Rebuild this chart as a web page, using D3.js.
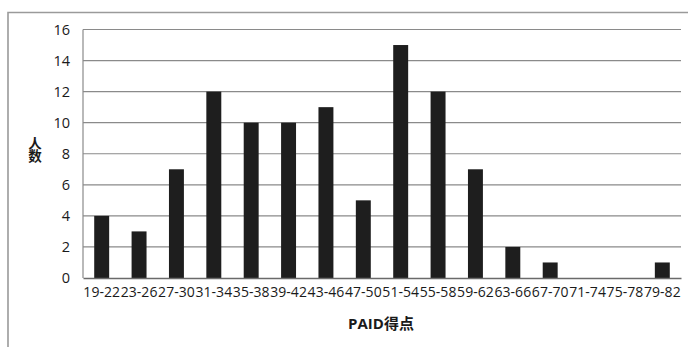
<!DOCTYPE html>
<html><head><meta charset="utf-8">
<script src="https://cdn.jsdelivr.net/npm/d3@7"></script>
<style>
html,body{margin:0;padding:0;background:#fff;}
svg{display:block;font-family:"Open Sans","Noto Sans CJK SC",sans-serif;}
</style></head>
<body>
<svg id="c" width="688" height="347"></svg>
<script>
const categories = ["19-22","23-26","27-30","31-34","35-38","39-42","43-46","47-50","51-54","55-58","59-62","63-66","67-70","71-74","75-78","79-82"];
const counts = [4,3,7,12,10,10,11,5,15,12,7,2,1,0,0,1];
const yTicks = [0,2,4,6,8,10,12,14,16];
const xTitle = "PAID得点";
const yTitle = "人数";

const FONT = "'Open Sans','Noto Sans CJK SC',sans-serif";
const svg = d3.select("#c");
const m = {left:83, right:681, top:29.5, bottom:278};

// outer frame
svg.append("path").attr("d","M8,347 V12.5 H688").attr("fill","none").attr("stroke","#9a9a9a").attr("stroke-width",1.6);

const x = d3.scaleBand().domain(categories).range([m.left,m.right]).paddingInner(0.6).paddingOuter(0.3);
const y = d3.scaleLinear().domain([0,16]).range([m.bottom,m.top]);

// gridlines
svg.append("g").selectAll("line").data(yTicks.filter(d=>d>0)).join("line")
  .attr("x1",m.left).attr("x2",m.right).attr("y1",d=>y(d)).attr("y2",d=>y(d))
  .attr("stroke","#8a8a8a").attr("stroke-width",1.2);
// left plot wall
svg.append("line").attr("x1",m.left).attr("x2",m.left).attr("y1",m.top).attr("y2",m.bottom)
  .attr("stroke","#8a8a8a").attr("stroke-width",1.2);

// bars
svg.append("g").selectAll("rect").data(categories).join("rect")
  .attr("x",d=>x(d)).attr("width",x.bandwidth())
  .attr("y",(d,i)=>y(counts[i])).attr("height",(d,i)=>y(0)-y(counts[i]))
  .attr("fill","#1e1e1e");

// x axis
const xa = svg.append("g").attr("transform",`translate(0,${m.bottom})`)
  .call(d3.axisBottom(x).tickSize(0).tickPadding(9));
xa.attr("font-family",FONT);
xa.select(".domain").attr("stroke","#6a6a6a").attr("stroke-width",1.5);
xa.selectAll("text").attr("font-size",14).attr("fill","#1a1a1a").attr("font-family",FONT)
  .attr("textLength",x.step()-0.6).attr("lengthAdjust","spacing");

// y axis
const ya = svg.append("g").attr("transform",`translate(${m.left},0)`)
  .call(d3.axisLeft(y).tickValues(yTicks).tickSize(0).tickPadding(13));
ya.attr("font-family",FONT);
ya.select(".domain").remove();
ya.selectAll("text").attr("font-size",14.5).attr("fill","#1a1a1a").attr("font-family",FONT);

// titles
svg.append("text").attr("x",381).attr("y",329).attr("text-anchor","middle")
  .attr("font-size",15).attr("font-weight","bold").attr("fill","#1a1a1a")
  .attr("font-family",FONT).text(xTitle);
svg.append("text").attr("x",35).attr("y",136)
  .style("writing-mode","vertical-rl").attr("text-anchor","start")
  .attr("font-size",13.5).attr("font-weight","bold").attr("fill","#1a1a1a")
  .attr("font-family","'Noto Sans CJK SC',sans-serif").text(yTitle);
</script>
</body></html>
